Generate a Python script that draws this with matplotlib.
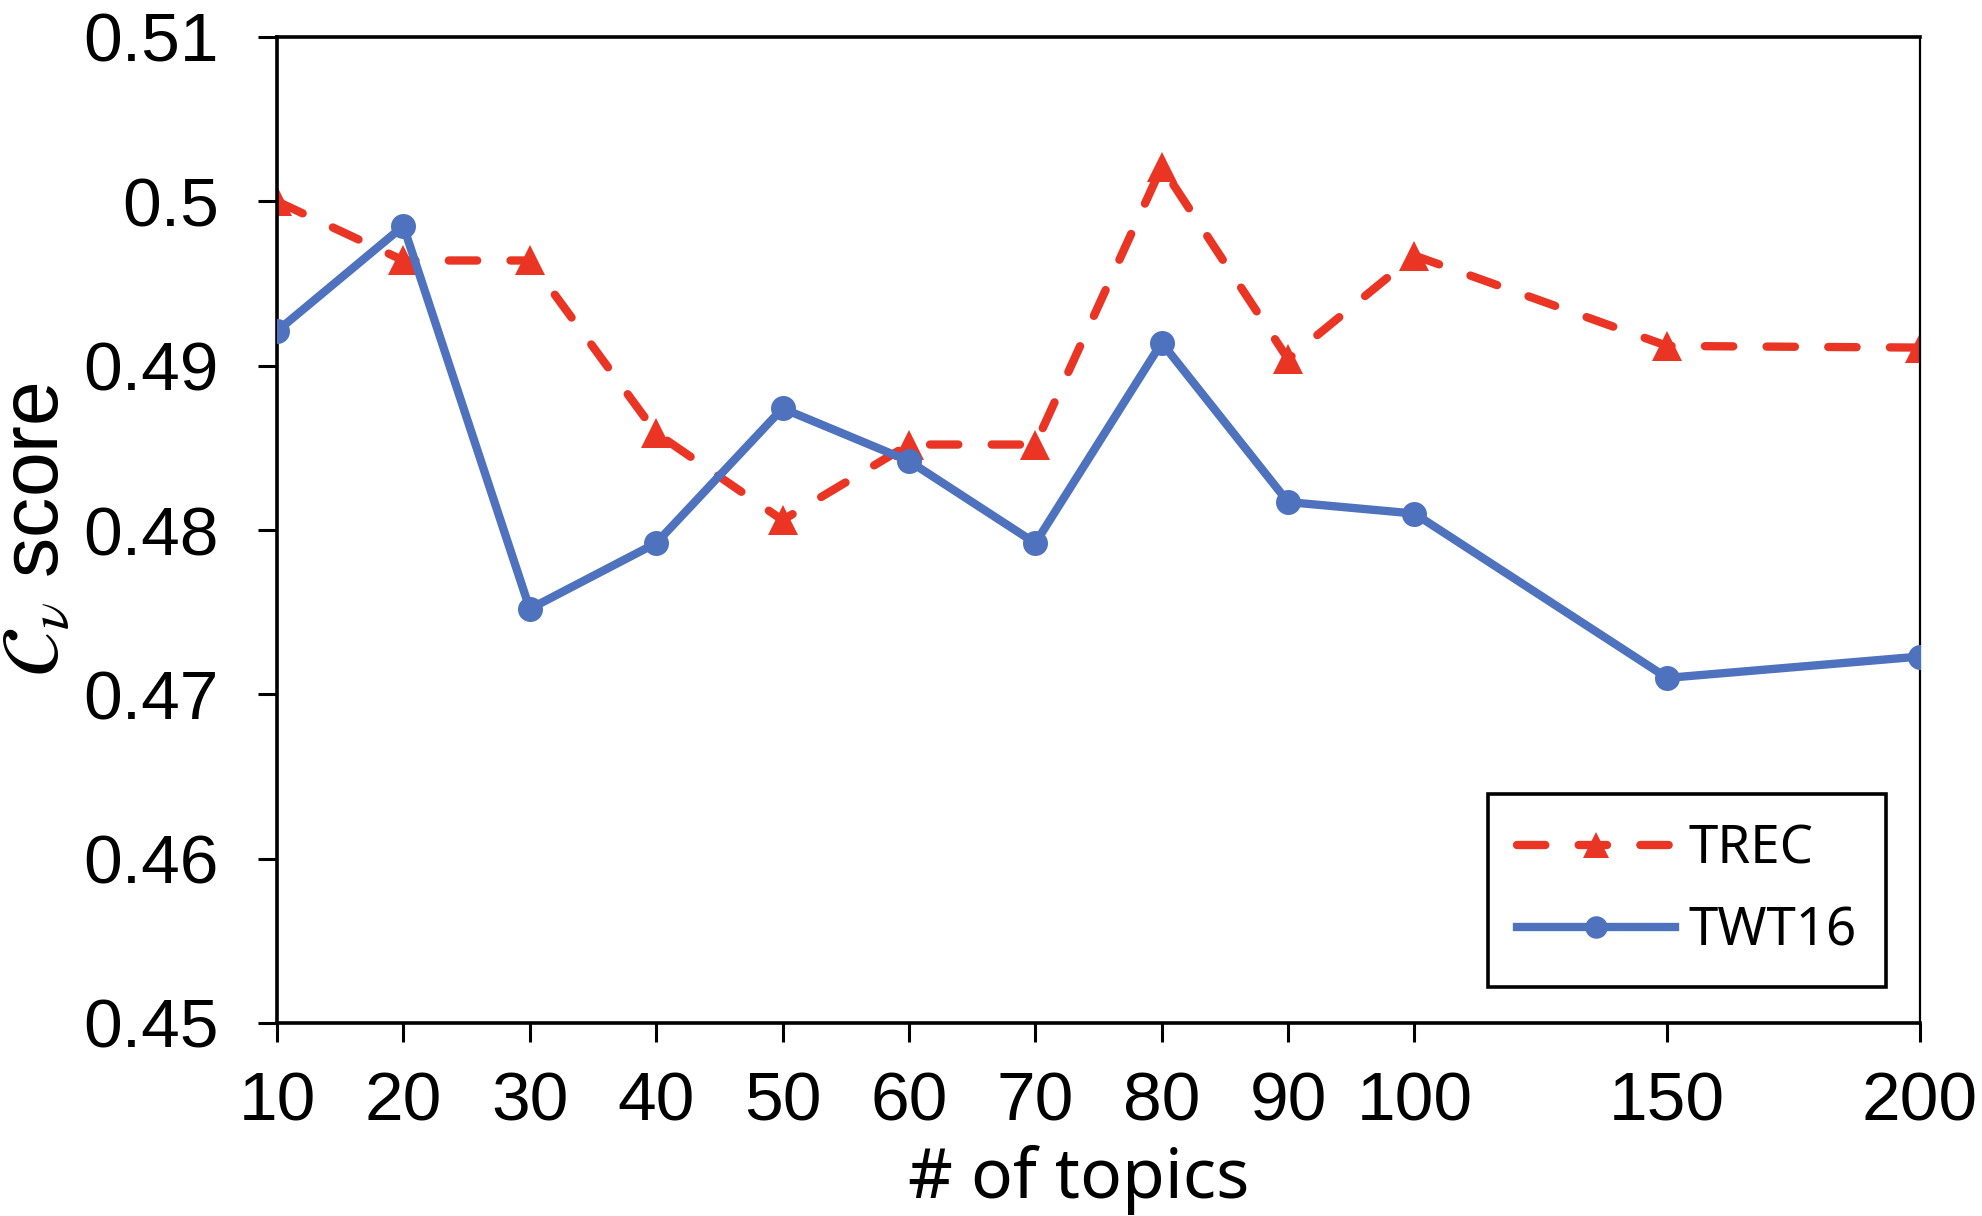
import numpy as np
import matplotlib
matplotlib.use("Agg")
import matplotlib.pyplot as plt

# Data
topics = ["10", "20", "30", "40", "50", "60", "70", "80", "90", "100", "150", "200"]
# category slots: 10..100 equally spaced, 150/200 take two slots each
positions = [0, 1, 2, 3, 4, 5, 6, 7, 8, 9, 11, 13]
trec = [0.5000, 0.4964, 0.4964, 0.4859, 0.4806, 0.4852, 0.4852, 0.5021, 0.4904, 0.4967, 0.4912, 0.4911]
twt16 = [0.4921, 0.4985, 0.4752, 0.4792, 0.4874, 0.4842, 0.4792, 0.4914, 0.4817, 0.4810, 0.4710, 0.4723]
yticks = [0.45, 0.46, 0.47, 0.48, 0.49, 0.5, 0.51]
ytick_labels = ["0.45", "0.46", "0.47", "0.48", "0.49", "0.5", "0.51"]

RED = "#EA3424"
BLUE = "#4E72BE"

plt.rcParams["font.family"] = ["Liberation Sans", "DejaVu Sans"]
plt.rcParams["mathtext.fontset"] = "stix"

fig = plt.figure(figsize=(19.82, 12.16), dpi=100)
ax = fig.add_axes([277 / 1982, 1 - 1023 / 1216, (1920 - 277) / 1982, (1023 - 37) / 1216])

ax.plot(positions, trec, color=RED, lw=6.0, ls=(0, (3.4, 4.0)), dash_capstyle="round",
        marker="^", markersize=21, markeredgewidth=0, label="TREC", zorder=2)
ax.plot(positions, twt16, color=BLUE, lw=6.0, ls="-", marker="o",
        markersize=18, markeredgewidth=0, label="TWT16", zorder=3)

ax.set_xlim(0, 13)
ax.set_ylim(0.45, 0.51)
ax.set_xticks(positions)
ax.set_xticklabels(topics)
ax.set_yticks(yticks)
ax.set_yticklabels(ytick_labels)

for side in ["left", "bottom", "top"]:
    ax.spines[side].set_linewidth(2.6)
ax.spines["right"].set_linewidth(1.6)
for s in ax.spines.values():
    s.set_color("black")

ax.tick_params(axis="y", direction="out", length=14, width=2.2, labelsize=50, pad=28)
ax.tick_params(axis="x", direction="out", length=14, width=2.2, labelsize=50, pad=20)

ax.set_xlabel("# of topics", fontsize=50, family=["Noto Sans", "DejaVu Sans"], labelpad=8)
ax.xaxis.label.set_x(0.488)
ax.set_ylabel(r"$\mathcal{C}_{\nu}$ score", fontsize=58)
ax.yaxis.set_label_coords(-0.122, 0.5)

leg = ax.legend(loc="upper left", bbox_to_anchor=(1488 / 1982, 1 - 794 / 1216),
                bbox_transform=fig.transFigure,
                prop={"family": ["Noto Sans", "DejaVu Sans"], "size": 38},
                frameon=True, fancybox=False, edgecolor="black", framealpha=1,
                handlelength=3.0, handletextpad=0.25, labelspacing=0.55,
                borderpad=0.55, borderaxespad=0, markerscale=0.9)
leg.get_frame().set_linewidth(2.6)

fig.savefig("out.png", dpi=100)
